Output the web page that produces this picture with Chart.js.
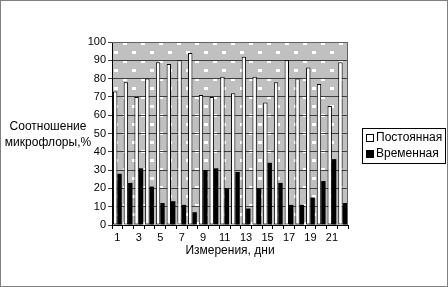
<!DOCTYPE html>
<html>
<head>
<meta charset="utf-8">
<script src="https://cdn.jsdelivr.net/npm/chart.js@4/dist/chart.umd.min.js"></script>
<style>
  html, body { margin: 0; padding: 0; background: #fff; }
  #wrap { width: 448px; height: 287px; position: relative; }
</style>
</head>
<body>
<div id="wrap"><canvas id="myChart" width="448" height="287"></canvas></div>
<script>
  // categories and values
  const days = ["1","2","3","4","5","6","7","8","9","10","11","12","13","14","15","16","17","18","19","20","21","22"];
  const permanent = [73, 78, 70, 80, 89, 88, 90, 94, 71, 70, 81, 72, 92, 81, 67, 78, 90, 80, 86, 77, 65, 89];
  const temporary = [28, 23, 31, 21, 12, 13, 11, 7, 30, 31, 20, 29, 9, 20, 34, 23, 11, 11, 15, 24, 36, 12];
  const yTicks = [0, 10, 20, 30, 40, 50, 60, 70, 80, 90, 100];
  const seriesNames = ["Постоянная", "Временная"];

  const FONT = "'Liberation Sans', Arial, sans-serif";

  // dotted grey background of the plot area, extra titles, legend and frame
  var decor = {
    id: "decor",
    beforeDraw: function (chart) {
      var ctx = chart.ctx;
      var a = chart.chartArea;
      ctx.save();
      ctx.fillStyle = "#ffffff";
      ctx.fillRect(0, 0, chart.width, chart.height);

      var tile = document.createElement("canvas");
      tile.width = 18;
      tile.height = 18;
      var t = tile.getContext("2d");
      t.fillStyle = "#c0c0c0";
      t.fillRect(0, 0, 18, 18);
      t.fillStyle = "#ffffff";
      t.fillRect(11, 0, 4, 3);
      t.fillRect(2, 9, 4, 3);
      ctx.fillStyle = ctx.createPattern(tile, "repeat");
      ctx.translate(a.left, a.top);
      ctx.fillRect(0, 0, a.right - a.left, a.bottom - a.top);
      ctx.restore();
    },
    afterDraw: function (chart) {
      var ctx = chart.ctx;
      var a = chart.chartArea;
      ctx.save();

      // plot frame (top and right)
      ctx.strokeStyle = "#606060";
      ctx.lineWidth = 1;
      ctx.beginPath();
      ctx.moveTo(a.left, a.top + 0.5);
      ctx.lineTo(a.right - 0.5, a.top + 0.5);
      ctx.lineTo(a.right - 0.5, a.bottom);
      ctx.stroke();

      // y title, horizontal, two lines
      ctx.fillStyle = "#000";
      ctx.font = "12px " + FONT;
      ctx.textAlign = "center";
      ctx.textBaseline = "middle";
      ctx.fillText("Соотношение", 48, 127);
      ctx.fillText("микрофлоры,%", 48, 143);

      // x title
      ctx.fillText("Измерения, дни", 230, 251);

      // legend
      ctx.strokeStyle = "#000";
      ctx.strokeRect(362.5, 128.5, 83, 35);
      ctx.textAlign = "left";
      ctx.fillStyle = "#fff";
      ctx.fillRect(366.5, 134.5, 7, 7);
      ctx.strokeRect(366.5, 134.5, 7, 7);
      ctx.fillStyle = "#000";
      ctx.fillRect(366, 150, 8, 8);
      ctx.fillText(seriesNames[0], 376, 138);
      ctx.fillText(seriesNames[1], 376, 154);

      // outer picture frame
      ctx.strokeStyle = "#808080";
      ctx.strokeRect(0.5, 0.5, chart.width - 1, chart.height - 1);
      ctx.restore();
    }
  };

  var ctx = document.getElementById("myChart").getContext("2d");
  var chart = new Chart(ctx, {
    type: "bar",
    data: {
      labels: days,
      datasets: [
        {
          label: seriesNames[0],
          data: permanent,
          backgroundColor: "#ffffff",
          borderColor: "#000000",
          borderWidth: 1,
          borderSkipped: false,
          categoryPercentage: 0.82,
          barPercentage: 1.0,
        },
        {
          label: seriesNames[1],
          data: temporary,
          backgroundColor: "#000000",
          borderColor: "#000000",
          borderWidth: 0,
          categoryPercentage: 0.82,
          barPercentage: 1.0,
        },
      ],
    },
    options: {
      responsive: false,
      animation: false,
      devicePixelRatio: 1,
      layout: {
        autoPadding: false,
        padding: { left: 0, top: 42, right: 100, bottom: 0 },
      },
      plugins: {
        legend: { display: false },
        tooltip: { enabled: false },
      },
      scales: {
        x: {
          offset: true,
          grid: {
            offset: true,
            display: true,
            drawOnChartArea: false,
            drawTicks: true,
            tickLength: 4,
            color: "#000",
          },
          border: { display: true, color: "#000" },
          ticks: {
            autoSkip: false,
            maxRotation: 0,
            padding: 2,
            color: "#000",
            font: { family: FONT, size: 11 },
            callback: function (val, i) {
              return i % 2 === 0 ? days[i] : "";
            },
          },
          afterFit: function (scale) {
            scale.height = 62;
          },
        },
        y: {
          min: 0,
          max: 100,
          afterBuildTicks: function (scale) {
            scale.ticks = yTicks.map(function (v) { return { value: v }; });
          },
          grid: {
            color: "#404040",
            tickLength: 4,
            drawTicks: true,
          },
          border: { display: true, color: "#000" },
          ticks: {
            padding: 2,
            color: "#000",
            font: { family: FONT, size: 11 },
          },
          afterFit: function (scale) {
            scale.width = 112;
          },
        },
      },
    },
    plugins: [decor],
  });
</script>
</body>
</html>
